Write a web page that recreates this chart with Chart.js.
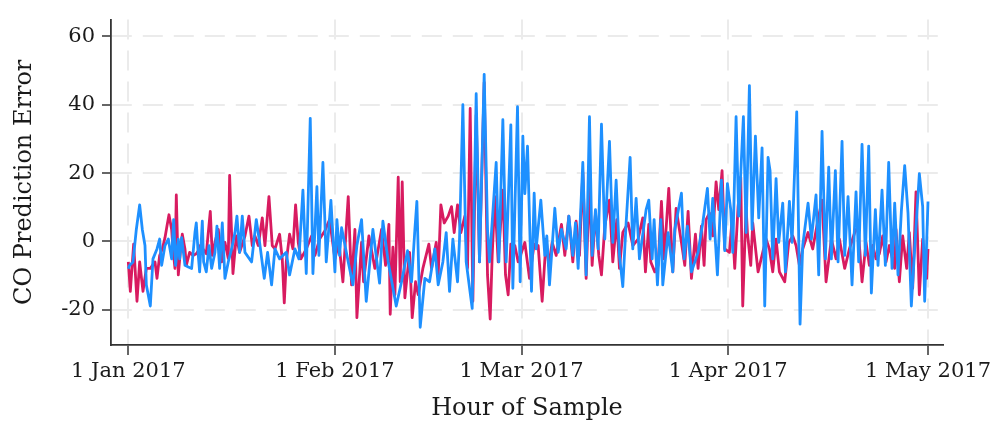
<!DOCTYPE html>
<html>
<head>
<meta charset="utf-8">
<title>CO Prediction Error</title>
<script src="https://cdn.jsdelivr.net/npm/chart.js@4.4.1/dist/chart.umd.min.js"></script>
<style>
  html, body { margin: 0; padding: 0; background: #ffffff; }
  #wrap { width: 1000px; height: 425px; }
</style>
</head>
<body>
<div id="wrap"><canvas id="coChart" width="1000" height="425"></canvas></div>
<script>
// days since 1 Jan 2017
const monthTicks = [0, 31, 59, 90, 120];
const monthLabels = ["1 Jan 2017", "1 Feb 2017", "1 Mar 2017", "1 Apr 2017", "1 May 2017"];
const errorTicks = [-20, 0, 20, 40, 60];

// blue series
const blueDays = [
    0.0, 0.2, 0.7, 1.2, 1.7, 2.1, 2.5, 2.7, 3.3, 3.7, 4.3, 4.7, 5.0, 5.5, 6.0, 6.5, 6.8, 7.1, 7.5, 7.7,
    8.0, 8.5, 9.0, 9.5, 10.0, 10.2, 10.5, 10.7, 11.1, 11.3, 11.7, 12.1, 12.5, 13.0, 13.3, 13.7, 14.1,
    14.5, 15.0, 15.5, 16.0, 16.3,
    16.7, 17.1, 17.5, 18.5, 19.2, 19.7, 20.4, 20.9, 21.5, 22.0, 22.7, 23.7, 24.2, 25.0, 25.6,
    26.2, 26.7, 27.3, 27.7, 28.3, 28.6, 29.2, 29.7, 30.4,
    31.0, 31.3, 31.7, 32.0, 33.0, 33.7, 34.3, 35.0, 35.7, 36.7, 37.7, 38.2, 39.0, 40.2, 41.0, 41.9,
    42.5, 43.0, 43.3, 43.8, 44.5, 45.2,
    46.0, 46.5, 47.2, 47.7, 48.2, 48.7, 49.4, 49.7, 50.2, 50.7, 51.6, 52.2, 52.7, 53.4, 53.9, 54.2,
    55.2, 55.6, 56.2, 56.7, 57.4, 57.7, 58.4, 58.8, 59.2, 59.5, 59.9, 60.5, 60.9, 61.2, 61.9,
    62.5, 62.8, 63.2, 64.0, 64.5, 65.0, 65.7, 66.1, 66.7, 67.1, 67.5, 68.2, 68.7, 69.2, 69.6, 70.1,
    70.5, 71.0, 71.5, 72.2, 72.7, 73.2, 73.7, 74.2, 74.7, 75.3, 75.7, 76.2, 76.7, 77.7,
    78.1, 78.6, 78.9, 79.4, 79.9, 80.2, 81.0, 81.7, 82.0, 83.0, 83.4, 83.9, 84.5, 85.5, 86.2, 86.9,
    87.3, 87.7, 88.4, 89.0, 89.5, 89.9, 90.4, 90.7, 91.2, 91.6, 92.3, 92.7, 93.2, 93.6,
    94.1, 94.6, 95.1, 95.5, 96.0, 96.3, 96.7, 97.2, 97.6, 98.2, 98.6, 99.2, 99.6, 100.3, 100.8,
    101.2, 102.0, 102.5, 103.2, 103.6, 104.1, 104.6, 105.1, 105.5, 106.1, 106.5, 107.1, 107.5, 108.0,
    108.6, 109.2, 109.6, 110.1, 110.6, 111.1, 111.5, 112.1, 112.5, 113.1, 113.6, 114.1, 114.6, 115.0,
    115.5, 116.0, 116.5, 117.0, 117.5, 118.0, 118.7, 119.2, 119.5, 120.0
];
const blueErr = [
    -8, -7, -6, 3.5, 10.7, 3.5, -1.2, -12.7, -18.9, -5.1, -2.2, 0.7, -7, -1.2, 0.7, -5.1, 6.4, -7, 0.7, -5.1,
    1.1, -7, -7.5, -7.9, 2.6, 5.4, -4.1, -8.9, 5.9, -6, -8.9, -1.2, -7.9, -3.2, 4.5, -7.9, 5.4,
    -10.8, -6, -2.2, 2.6, 7.4,
    -3.2, 7.4, -3.2, -6, 6.4, -0.3, -10.8, -3.2, -12.7, -2.2, -5.1, -3.2, -9.8, -2.2, -5.1,
    15, -9.4, 36, -9.4, 16, -4.1, 23.1, -6, 12,
    -8.9, 6.4, -4.1, 4, -6, -12.7, -1.2, 6.4, -17.5, 3.5, -12.2, 5.9, -6, -18.9, -11.8, -2.7,
    -11.8, 3.5, 11.7, -25.1, -10.8, -11.8,
    -2.2, -12.7, -6, 2.6, -14.6, 0.7, -11.8, 0.7, 40, -6, -19.6, 43.2, -6, 48.9, 3.5, -6,
    23.1, -6, 35.6, -6, 34.1, -13.7, 39.4, -11.8, 30.8, 14, 27.9, -14.6, 14.1, -2.2, 12.1,
    -4.1, 1.6, -12.7, 9.7, -3.2, 3.5, -2.2, 7.4, -4.1, 5.4, -7.9, 23.1, -9.8, 36.5, -4.1, 9.3,
    -2.2, 34.3, 0.7, 29.3, -0.3, 17.9, -4.1, -13.2, 5.4, 24.6, -2.2, 12.6, -5.1, 9.3,
    12.1, -5.1, 6.4, -12.7, 6.4, -12.7, 2.6, -8.9, 3.5, 14.1, -5.1, 4.5, -8.9, -3.2, 5.4, 15.5,
    0.7, 12.6, -9.8, 17.9, -2.7, 16.9, 9.3, -3.2, 36.5, 7.4, 36.5, 2.6, 45.6, 3.5,
    30.8, 6.9, 27.4, -18.9, 24.6, 20.7, -5.1, 18.4, -0.3, 11.2, -8.9, 11.7, -0.3, 37.9, -24.2,
    -1.2, 11.2, 0.7, 13.6, -9.8, 32.2, -5.1, 21.7, -5.1, 20.7, -6, 29.3, -4.1, 13.1,
    -12.7, 14.5, -6, 28.4, -4.1, 27.9, -15.1, 9.3, -7, 15, -7, 23.1, -7.9, 11.2,
    -9.8, 8.8, 22.2, 8.3, -18.9, -2.2, 19.8, 10.2, -17.5, 11.7
];

// red series
const redDays = [
    0.0, 0.3, 0.8, 1.3, 1.7, 2.2, 2.7, 3.3, 4.0, 4.3, 4.7, 5.1, 5.5, 5.8, 6.1, 6.5, 6.7, 7.0, 7.2, 7.5,
    7.8, 8.1, 8.5, 8.7, 9.2, 9.7, 10.2, 10.5, 10.8, 11.2, 11.7, 12.3, 12.6, 13.0, 13.5, 14.0, 14.5,
    15.0, 15.2,
    15.7, 16.2, 16.7, 17.5, 18.1, 18.6, 19.0, 19.5, 20.1, 20.5, 21.1, 21.6, 22.0, 22.7, 23.1,
    23.4, 23.7, 24.2, 24.7, 25.1, 25.5, 25.9, 26.7, 27.5, 28.0, 28.7, 29.5, 30.2,
    31.0, 31.6, 32.2, 33.0, 33.5, 34.0, 34.3, 35.0, 35.3, 36.1, 37.0, 38.0, 38.6, 39.1, 39.3, 39.7,
    40.0, 40.5, 40.8, 41.1, 41.5, 42.2, 42.6, 43.1, 43.5, 44.2, 45.1, 45.5, 46.2,
    46.5, 46.9, 47.4, 48.0, 48.5, 48.9, 49.4, 49.9, 50.5, 50.9, 51.3, 51.7, 52.2, 52.7, 53.4, 53.9,
    54.3, 54.6, 55.0, 55.5, 56.2, 56.6, 57.0, 57.4, 58.0, 58.5, 59.5, 60.2, 60.9, 61.5, 62.1,
    62.7, 63.1, 63.6, 64.2, 65.0, 65.5, 66.1, 66.7, 67.2, 67.7, 68.2, 68.7, 69.2, 69.6, 70.1, 70.6,
    71.0, 71.5, 72.2, 72.7, 73.3, 73.7, 74.2, 75.0, 75.7, 76.5, 77.2,
    77.6, 78.1, 78.4, 79.0, 79.5, 80.0, 80.4, 81.1, 81.7, 82.2, 83.0, 83.5, 84.0, 84.5, 85.1, 85.5,
    86.0, 86.4, 86.7, 87.2, 87.7, 88.2, 88.6, 89.1, 89.5, 90.2, 90.6, 91.0, 91.5, 91.9, 92.2, 92.7,
    92.9, 93.4,
    93.7, 94.5, 95.2, 95.7, 96.2, 96.7, 97.2, 97.7, 98.5, 99.1, 99.7, 100.2, 100.7, 101.2, 102.0,
    102.7, 103.5, 104.1, 104.7, 105.5, 106.2, 106.7, 107.5, 108.2, 109.0,
    109.5, 110.1, 110.7, 111.2, 111.7, 112.2, 112.7, 113.2, 113.7, 114.2, 115.0, 115.2, 115.7, 116.2,
    116.8, 117.2, 117.7, 118.2, 118.7, 119.2, 119.8, 120.0
];
const redErr = [
    -6, -14.6, -0.8, -17.5, -6, -14.6, -7.9, -7.9, -6, -10.8, -4.1, -2.2, 1.1, 4.5, 7.8, 3.5, -2.2, -7.9, 13.6, -9.8,
    -3.2, 2.1, -2.2, -7, -3.2, -4.1, -3.6, -2.7, -1.2, -2.2, -3.6, 8.8, -4.1, -0.3, 3.5, -6, -0.3,
    -5, 19.3,
    -9.4, 1.6, -3.2, 1.6, 7.4, -1.2, 1.6, -1.2, 6.9, -1.2, 13.1, -1.2, -2.2, 2.1, -5.1,
    -18, -6, 2.1, -2.2, 10.7, -0.3, -5.1, -2.2, 1.6, -4.1, 0.7, 3.1, 6.4,
    -5.1, -0.3, -11.8, 13.1, -12.7, 3.5, -22.3, -0.3, -11.8, 1.6, -7.9, 3.5, -7, 5, -21.3, -1.7,
    -15.6, 18.8, -11.8, 17.4, -16.5, -3.2, -22.3, -11.8, -15.6, -7.9, -0.8, -7.9, -0.3,
    -9.8, 10.7, 5.4, 7.4, 10.2, 2.6, 10.7, 2.6, 7.4, -7.9, 38.9, -17.5, 37, -6, 46.5, -9.8,
    -22.7, -4.1, 13.1, -6, 15, -9.8, -15.6, -0.8, -1.2, -6, -0.3, -10.8, -0.8, -1.2, -17.5,
    0.7, -7, -0.3, -4.1, 5, -4.1, 7.4, -6, 5.9, -4.1, 20.3, -10.8, 17.9, -7, 8.3, -4.1,
    -9.8, 4.5, 12.1, -6, 6.4, -7.9, 2.6, 5.4, -1.2, 0.7, 6.9,
    -8.9, 5, -6, -8.9, -7, 11.7, -5.1, 15.5, -8.9, 9.7, -0.3, -7, 8.8, -10.8, 2.1, -7.9,
    4.5, -7, 6.4, 8.3, 1.6, 17.4, 9.3, 20.7, -2.2, -3.2, 6.4, -7.9, 10.2, 18.8, -18.9, 10.2,
    2.6, -7,
    5.4, -8.9, -3.2, 0.7, -2.2, -8.9, 0.7, -8.9, -11.8, -0.3, 1.6, -1.2, -7, -2.2, 2.6,
    -2.2, 6.4, 12.1, -11.8, 0.7, -5.1, 0.7, -7.9, -2.2, 2.6,
    4.5, -11.8, -0.3, -7, -1.2, -5.1, -3.6, 1.6, -6, -1.2, -7.9, 3.5, -11.8, 1.6,
    -7.9, 2.6, -13.7, 14.5, -15.6, 0.7, -10.8, -2.2
];

const colorBlue = "#1e90ff", colorRed = "#d81b60", colorGrid = "#ebebeb", colorAxis = "#333333", colorText = "#1a1a1a";
const serif = "'DejaVu Serif', serif";

const toPoints = (days, values) => days.map((d, i) => ({ x: d, y: values[i] }));

const coChartCtx = document.getElementById("coChart").getContext("2d");

const coChart =
    new Chart(coChartCtx, {
        type: "line",
        data: {
            datasets: [
                {
                    label: "blue",
                    data: toPoints(blueDays, blueErr),
                    borderColor: colorBlue,
                    borderWidth: 2.8,
                    borderJoinStyle: "round",
                    pointRadius: 0,
                    tension: 0,
                },
                {
                    label: "red",
                    data: toPoints(redDays, redErr),
                    borderColor: colorRed,
                    borderWidth: 2.8,
                    borderJoinStyle: "round",
                    pointRadius: 0,
                    tension: 0,
                },
            ],
        },
        options: {
            responsive: false,
            devicePixelRatio: 1,
            animation: false,
            layout: { padding: { top: 13, right: 57, bottom: 0, left: 0 } },
            plugins: { legend: { display: false }, tooltip: { enabled: false } },
            scales: {
                x: {
                    type: "linear",
                    min: -2.6,
                    max: 122.25,
                    afterBuildTicks: (scale) => { scale.ticks = monthTicks.map((v) => ({ value: v })); },
                    afterFit: (scale) => { scale.height = 80; },
                    ticks: {
                        autoSkip: false,
                        maxRotation: 0,
                        padding: 4,
                        color: colorText,
                        font: { family: serif, size: 21 },
                        callback: (value, index) => monthLabels[index],
                    },
                    grid: {
                        color: colorGrid,
                        lineWidth: 2,
                        tickColor: colorAxis,
                        tickLength: 10,
                        tickWidth: 1.5,
                        tickBorderDash: [],
                    },
                    border: { display: true, color: colorAxis, width: 1.8, dash: [20, 11] },
                    title: {
                        display: true,
                        text: "Hour of Sample",
                        color: colorText,
                        font: { family: serif, size: 24 },
                        padding: { top: 0, bottom: 2 },
                    },
                },
                y: {
                    min: -30.3,
                    max: 64.9,
                    afterBuildTicks: (scale) => { scale.ticks = errorTicks.map((v) => ({ value: v })); },
                    afterFit: (scale) => { scale.width = 111; },
                    ticks: {
                        padding: 7,
                        color: colorText,
                        font: { family: serif, size: 21 },
                    },
                    grid: {
                        color: colorGrid,
                        lineWidth: 2,
                        tickColor: colorAxis,
                        tickLength: 9,
                        tickWidth: 1.5,
                        tickBorderDash: [],
                    },
                    border: { display: true, color: colorAxis, width: 1.8, dash: [20, 11] },
                    title: {
                        display: true,
                        text: "CO Prediction Error",
                        color: colorText,
                        font: { family: serif, size: 24 },
                        padding: { top: 10, bottom: 0 },
                    },
                },
            },
        },
    });
</script>
</body>
</html>
